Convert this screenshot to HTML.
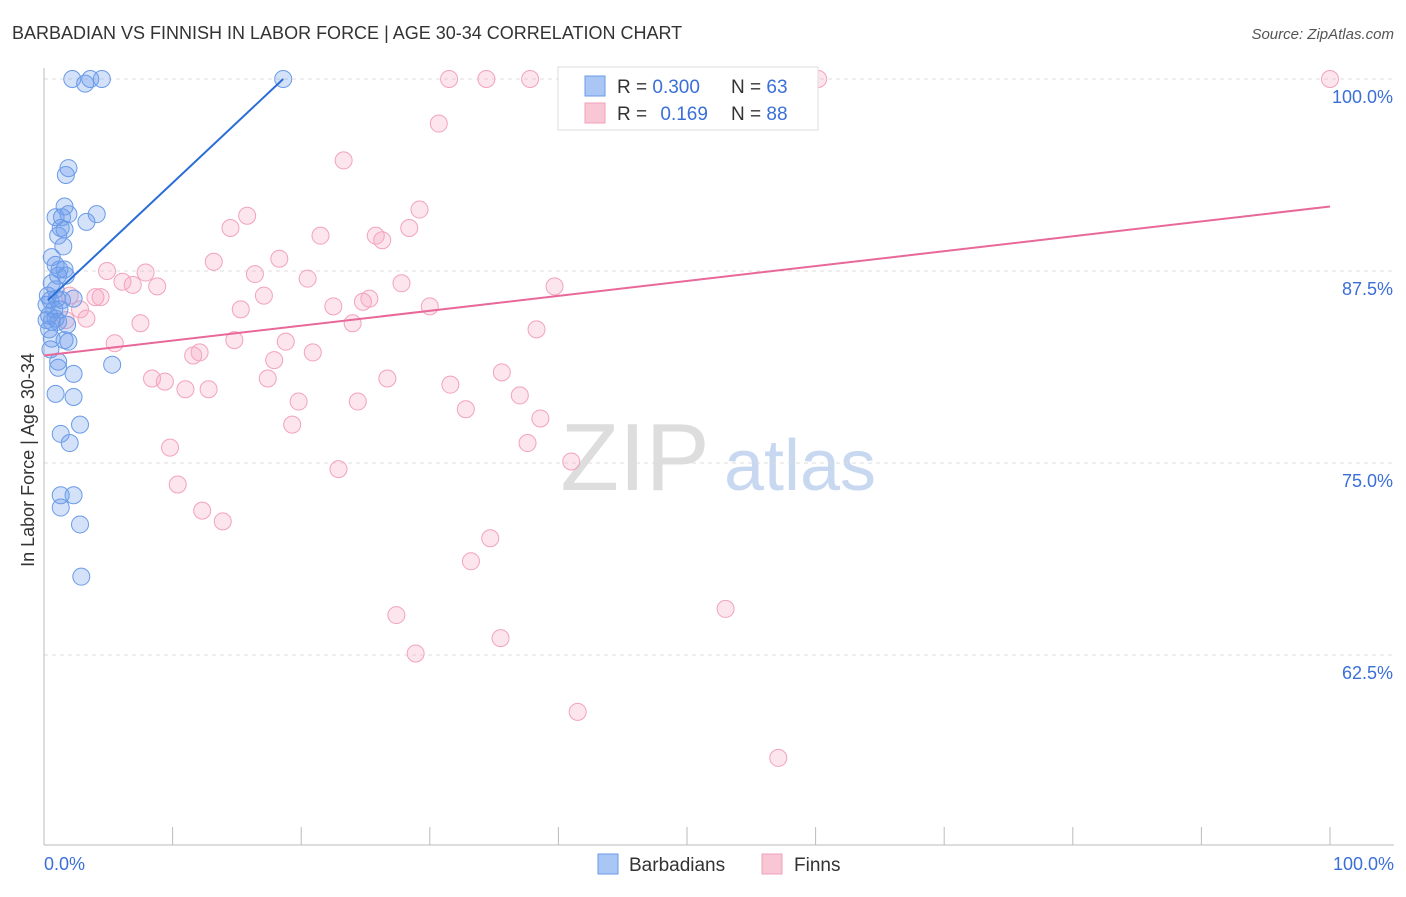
<!DOCTYPE html>
<html><head><meta charset="utf-8"><style>
body{margin:0;background:#fff;font-family:"Liberation Sans",sans-serif;}
svg text{font-family:"Liberation Sans",sans-serif;}
</style></head><body>
<svg id="chart" width="1406" height="892">
<text x="12" y="39" font-size="18" fill="#333">BARBADIAN VS FINNISH IN LABOR FORCE | AGE 30-34 CORRELATION CHART</text>
<text x="1394" y="39" font-size="15" fill="#555" text-anchor="end" font-style="italic">Source: ZipAtlas.com</text>
<text x="34" y="460" font-size="18" fill="#333" text-anchor="middle" transform="rotate(-90 34 460)">In Labor Force | Age 30-34</text>
<g><text x="635" y="490" font-size="96" fill="#ddd" font-family="Liberation Serif" text-anchor="middle">ZIP</text><text x="800" y="490" font-size="72" fill="#c8d8f0" text-anchor="middle">atlas</text></g>
<g id="grid"></g><g id="pts"></g><g id="lines"></g>
<g>
<rect x="558" y="67" width="260" height="63" fill="#fff" stroke="#ddd"/>
<rect x="585" y="76" width="20" height="20" fill="#aac6f5" stroke="#6a9be8"/>
<rect x="585" y="103" width="20" height="20" fill="#f9c6d5" stroke="#f0a0b8"/>
<text x="617" y="93" font-size="19" fill="#333">R = <tspan fill="#3a6fd8">0.300</tspan></text>
<text x="731" y="93" font-size="19" fill="#333">N = <tspan fill="#3a6fd8">63</tspan></text>
<text x="617" y="120" font-size="19" fill="#333">R = <tspan fill="#3a6fd8" dx="8">0.169</tspan></text>
<text x="731" y="120" font-size="19" fill="#333">N = <tspan fill="#3a6fd8">88</tspan></text>
</g>
<g>
<rect x="598" y="854" width="20" height="20" fill="#aac6f5" stroke="#6a9be8"/>
<text x="629" y="871" font-size="19" fill="#333">Barbadians</text>
<rect x="762" y="854" width="20" height="20" fill="#f9c6d5" stroke="#f0a0b8"/>
<text x="794" y="871" font-size="19" fill="#333">Finns</text>
</g>
</svg>
<script>
const yTicks=[100,87.5,75,62.5];
const yTickLabels=["100.0%","87.5%","75.0%","62.5%"];
const blueX=[2.2,3.2,3.6,4.5,18.6,1.9,1.7,1.6,0.9,1.9,4.1,1.4,3.3,1.3,1.6,1.1,1.5,0.6,0.9,1.2,1.6,1.1,1.7,0.6,0.9,0.3,1.0,2.3,0.5,1.4,0.2,0.8,1.2,0.4,0.9,0.2,0.6,1.1,1.8,0.4,0.6,1.6,1.9,0.5,1.1,5.3,1.1,2.3,0.9,2.3,2.8,1.3,2.0,1.3,2.3,1.3,2.8,2.9];
const blueY=[100,99.7,100,100,100,94.2,93.75,91.7,91.0,91.2,91.2,91.0,90.7,90.3,90.2,89.8,89.1,88.4,87.9,87.6,87.6,87.2,87.2,86.7,86.3,85.9,85.7,85.7,85.6,85.6,85.3,85.0,85.0,84.6,84.4,84.3,84.2,84.2,84.0,83.7,83.1,83.0,82.9,82.4,81.6,81.4,81.2,80.8,79.5,79.3,77.5,76.9,76.3,72.9,72.9,72.1,71.0,67.6];
const pinkX=[31.5,34.4,37.8,46.3,51.9,55.8,60.2,100,30.7,23.3,29.2,15.8,14.5,28.4,21.5,25.8,26.3,13.2,18.3,4.9,7.9,16.4,20.5,6.1,6.9,8.8,27.8,39.7,4.4,17.1,25.3,24.8,22.5,30.0,15.3,2.8,3.3,7.5,24.0,38.3,14.8,5.5,18.8,20.9,12.1,11.6,17.9,8.4,9.4,17.4,26.7,31.6,35.6,11.0,12.8,19.8,24.4,37.0,32.8,38.6,19.3,37.6,9.8,22.9,41.0,10.4,12.3,13.9,34.7,33.2,53.0,27.4,35.5,28.9,41.5,57.1,2.0,4.0,1.7];
const pinkY=[100,100,100,100,100,100,100,100,97.1,94.7,91.5,91.1,90.3,90.3,89.8,89.8,89.5,88.1,88.3,87.5,87.4,87.3,87.0,86.8,86.6,86.5,86.7,86.5,85.8,85.9,85.7,85.5,85.2,85.2,85.0,85.0,84.4,84.1,84.1,83.7,83.0,82.8,82.9,82.2,82.2,82.0,81.7,80.5,80.3,80.5,80.5,80.1,80.9,79.8,79.8,79.0,79.0,79.4,78.5,77.9,77.5,76.3,76.0,74.6,75.1,73.6,71.9,71.2,70.1,68.6,65.5,65.1,63.6,62.6,58.8,55.8,85.9,85.8,84.3];
const blueLine=[[0.3,85.6],[18.6,100]];
const pinkLine=[[0,82.0],[100,91.7]];
const NS="http://www.w3.org/2000/svg";
const sx=v=>44+v*12.86, sy=v=>79+(100-v)*15.36;
function mk(p,t,a){const e=document.createElementNS(NS,t);for(const k in a)e.setAttribute(k,a[k]);p.appendChild(e);return e;}
const g=document.getElementById('grid');
yTicks.forEach((t,i)=>{
 const l=mk(g,'line',{x1:44,x2:1394,y1:sy(t),y2:sy(t),stroke:'#ddd','stroke-dasharray':'4,4'});
 
 
 const tx=mk(g,'text',{x:1393,y:sy(t)+24,'font-size':18,fill:'#3a6fd8','text-anchor':'end'});tx.textContent=yTickLabels[i];
 
 
});
const ax=mk(g,'line',{x1:44,x2:44,y1:68,y2:845,stroke:'#bbb'});


const bx=mk(g,'line',{x1:44,x2:1394,y1:845,y2:845,stroke:'#bbb'});


for(let i=0;i<=10;i++){const t=mk(g,'line',{x1:sx(i*10),x2:sx(i*10),y1:827,y2:845,stroke:'#bbb'});
 
 }
[[0,"0.0%","start",44],[100,"100.0%","end",1394]].forEach(d=>{const t=mk(g,'text',{x:d[3],y:870,'font-size':18,fill:'#3a6fd8','text-anchor':d[2]});t.textContent=d[1];
 
 });
const P=document.getElementById('pts');
pinkX.forEach((x,i)=>{const c=mk(P,'circle',{cx:sx(x),cy:sy(pinkY[i]),r:8.5,fill:'rgba(248,170,195,0.3)',stroke:'#f2a3bb','stroke-width':1});
 
 });
blueX.forEach((x,i)=>{const c=mk(P,'circle',{cx:sx(x),cy:sy(blueY[i]),r:8.5,fill:'rgba(110,155,235,0.3)',stroke:'#6a9be8','stroke-width':1});
 
 });
const L=document.getElementById('lines');
const pl=mk(L,'line',{x1:sx(pinkLine[0][0]),y1:sy(pinkLine[0][1]),x2:sx(pinkLine[1][0]),y2:sy(pinkLine[1][1]),stroke:'#e8689a','stroke-width':2});


const bl=mk(L,'line',{x1:sx(blueLine[0][0]),y1:sy(blueLine[0][1]),x2:sx(blueLine[1][0]),y2:sy(blueLine[1][1]),stroke:'#2a6dd6','stroke-width':2});


</script>
</body></html>
